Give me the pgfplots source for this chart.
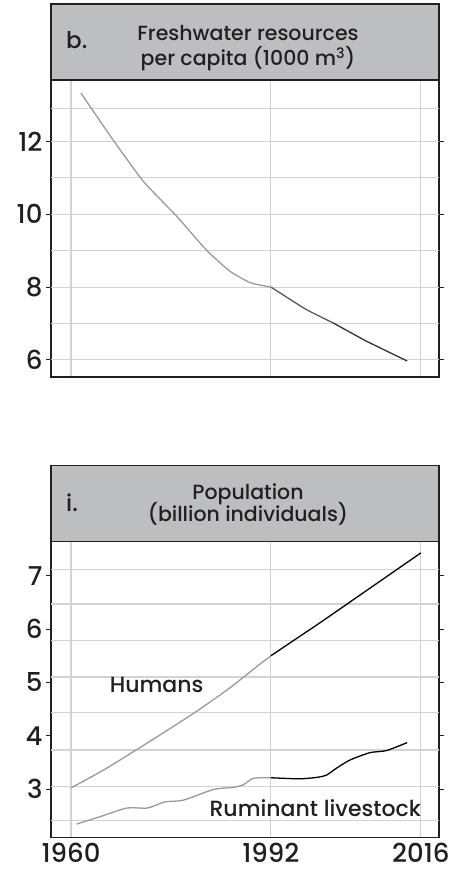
\documentclass[border=0pt]{standalone}
\usepackage{pgfplots}
\pgfplotsset{compat=1.18}
\usepackage{fontspec}
\setmainfont{Poppins}[UprightFont=* Medium]
\definecolor{hdr}{HTML}{BDBEC0}
\definecolor{gridc}{HTML}{D3D3D3}
\definecolor{ink}{HTML}{231F20}
\definecolor{oldc}{HTML}{9A9A9A}

\pgfplotsset{
  panel/.style={
    scale only axis, width=388pt, height=297pt,
    xmin=1956.8, xmax=2018.9,
    axis line style={ink, line width=1.1pt},
    tick style={ink, line width=0.8pt},
    tick align=outside, major tick length=5pt,
    xtick={1960,1992,2016},
    xmajorgrids, ymajorgrids=false,
    major grid style={gridc, line width=1.1pt},
    tick label style={font=\fontsize{26}{28}\selectfont, text=ink},
    /pgf/number format/assume math mode=true,
    /pgf/number format/1000 sep={},
    clip=false,
  },
}

\begin{document}
\begin{tikzpicture}[x=1pt,y=1pt]
\path (0,0) rectangle (452,875);

% ---------- top panel ----------
\begin{axis}[panel, name=top, at={(51pt,498pt)}, anchor=south west,
  ymin=5.53, ymax=13.69,
  ytick={6,8,10,12},
  xticklabels={},
  extra y ticks={6,7,8,9,10,11,12,12.9},
  extra y tick labels={},
  extra y tick style={major tick length=0pt, grid=major},
  xtick style={draw=none},
]
\addplot[oldc, line width=1.3pt, smooth, tension=0.3] coordinates {
  (1961.6,13.33) (1966.5,12.1) (1971.6,10.90) (1976.9,9.95)
  (1981.6,9.03) (1985.4,8.44) (1988.7,8.12) (1992,8.0)
};
\addplot[black!65, line width=1.3pt, smooth, tension=0.3] coordinates {
  (1992,8.0) (1997.6,7.39) (2001.9,7.02)
};
\addplot[black!80, line width=1.3pt] coordinates {
  (2001.9,7.02) (2007.2,6.52) (2013.8,5.97)
};
\end{axis}
\draw[ink, line width=1.1pt, fill=hdr] (top.north west) rectangle ([yshift=76pt]top.north east);
\node[ink, anchor=base west, font=\fontsize{23}{25}\selectfont, inner sep=0pt] at ([xshift=15pt,yshift=31pt]top.north west) {b.};
\node[ink, anchor=base, font=\fontsize{20.5}{22}\selectfont, inner sep=0pt]
  at ([xshift=3pt,yshift=39pt]top.north) {Freshwater resources};
\node[ink, anchor=base, font=\fontsize{20.5}{22}\selectfont, inner sep=0pt]
  at ([xshift=3pt,yshift=14pt]top.north) {per capita (1000 m\textsuperscript{3})};

% ---------- bottom panel ----------
\begin{axis}[panel, name=bot, at={(51pt,37.3pt)}, anchor=south west,
  height=296pt,
  ymin=2.085, ymax=7.64,
  ytick={3,4,5,6,7},
  xticklabel style={yshift=3pt},
  xtick style={draw=none},
  extra y ticks={2.40,3.04,3.73,4.43,5.10,5.78,6.47,7.11},
  extra y tick labels={},
  extra y tick style={major tick length=0pt, grid=major},
]
\addplot[oldc, line width=1.3pt, smooth] coordinates {
  (1960,3.02) (1965,3.34) (1970,3.70) (1975,4.07) (1980,4.45)
  (1985,4.86) (1990,5.32) (1992,5.50)
};
\addplot[black, line width=1.3pt] coordinates {
  (1992,5.50) (2000,6.13) (2008,6.78) (2016,7.43)
};
\addplot[oldc, line width=1.3pt, smooth, tension=0.4] coordinates {
  (1960.9,2.34) (1964.9,2.49) (1968.9,2.64) (1972.1,2.64) (1973.7,2.70)
  (1975.1,2.76) (1978.0,2.79) (1982.8,2.99) (1986.0,3.03) (1987.6,3.08)
  (1989.2,3.20) (1992,3.21)
};
\addplot[black, line width=1.3pt, smooth, tension=0.4] coordinates {
  (1992,3.21) (1996.6,3.19) (1999.5,3.22) (2000.9,3.26) (2002.5,3.39)
  (2004.6,3.54) (2007.8,3.68) (2010.5,3.72) (2013.8,3.87)
};
\node[ink, font=\fontsize{22}{24}\selectfont] at (axis cs:1973.7,4.95) {Humans};
\node[ink, font=\fontsize{22}{24}\selectfont] at (axis cs:1999.1,2.64) {Ruminant livestock};
\end{axis}
\draw[ink, line width=1.1pt, fill=hdr] (bot.north west) rectangle ([yshift=76pt]bot.north east);
\node[ink, anchor=base west, font=\fontsize{23}{25}\selectfont, inner sep=0pt] at ([xshift=15pt,yshift=30pt]bot.north west) {i.};
\node[ink, anchor=base, font=\fontsize{20.5}{22}\selectfont, inner sep=0pt]
  at ([xshift=3pt,yshift=42pt]bot.north) {Population};
\node[ink, anchor=base, font=\fontsize{20.5}{22}\selectfont, inner sep=0pt]
  at ([xshift=3pt,yshift=20pt]bot.north) {(billion individuals)};
\end{tikzpicture}
\end{document}
